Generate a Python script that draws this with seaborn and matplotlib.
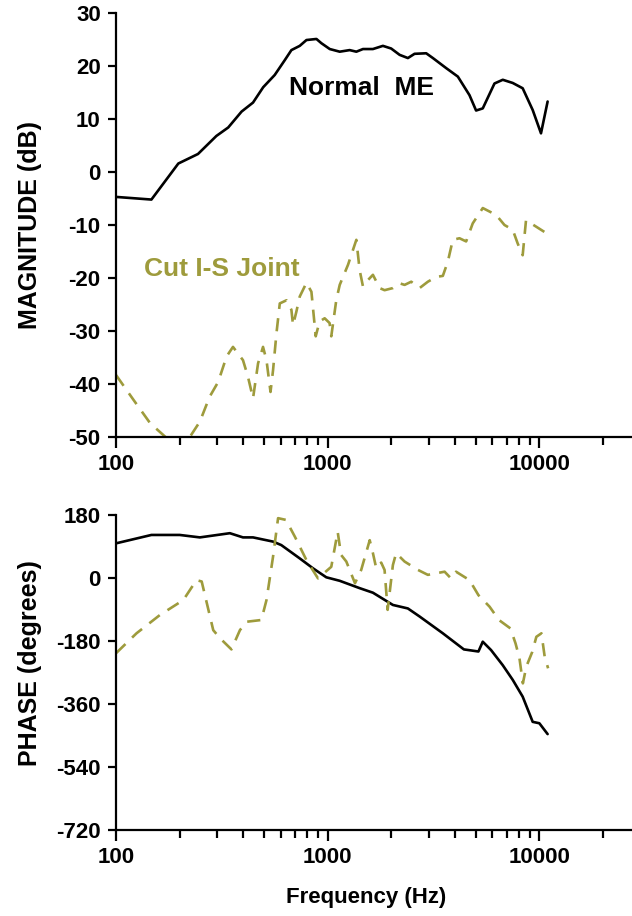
import numpy as np
import pandas as pd
import matplotlib
matplotlib.use("Agg")
import matplotlib.pyplot as plt
from matplotlib.ticker import FixedLocator, FixedFormatter, NullFormatter
import seaborn as sns

# Frequency response of the middle ear: magnitude and phase
freq_mag_normal = [100, 147, 197, 244, 298, 339, 392, 444, 496, 562, 627, 674, 738, 794, 885,
                   934, 1023, 1140, 1270, 1366, 1468, 1636, 1824, 1995, 2188, 2393, 2573, 2921,
                   3141, 3630, 4121, 4677, 5025, 5404, 6138, 6718, 7486, 8342, 9302, 10181, 10943]
mag_normal = [-4.7, -5.2, 1.6, 3.4, 6.8, 8.4, 11.4, 13.1, 16.0, 18.3, 21.1, 23.0, 23.8, 24.9, 25.1,
              24.3, 23.2, 22.7, 23.0, 22.7, 23.2, 23.2, 23.8, 23.3, 22.1, 21.5, 22.3, 22.4,
              21.5, 19.6, 18.0, 14.5, 11.6, 12.0, 16.7, 17.4, 16.8, 15.8, 11.7, 7.3, 13.3]

freq_mag_cut = [100, 121, 145, 167, 188, 215, 249, 277, 304, 333, 357, 398, 420, 444, 469, 495,
                514, 537, 552, 573, 594, 639, 674, 686, 711, 738, 794, 838, 878, 916, 968, 1021,
                1040, 1098, 1140, 1248, 1366, 1416, 1468, 1549, 1636, 1760, 1857, 2033, 2188,
                2309, 2482, 2718, 2974, 3258, 3500, 3696, 3901, 4195, 4510, 4845, 5404, 6249,
                6843, 7486, 7904, 8342, 8650, 9134, 9645, 10560]
mag_cut = [-38.3, -43, -47.4, -49.6, -51.5, -51, -47.1, -42.4, -39.6, -34.8, -33, -35.5, -38.6,
           -42.7, -36.1, -33, -35.5, -41.5, -37.4, -30.4, -24.8, -24.2, -26, -28.9, -26.4, -23.5,
           -20.9, -22.6, -31, -28.2, -27.6, -28.5, -31, -24.2, -21.3, -17.5, -12.8, -18.5, -21.6,
           -20.4, -19.4, -21.9, -22.3, -21.9, -21.0, -21.3, -20.7, -21.9, -20.7, -19.8, -19.6,
           -16.9, -12.8, -12.5, -13.1, -9.7, -6.8, -8.1, -10, -10.9, -13.5, -15.7, -9.1, -9.7,
           -10.3, -11.3]

freq_ph_normal = [100, 147, 200, 249, 345, 398, 444, 552, 604, 738, 851, 985, 1140, 1416, 1636,
                  2033, 2393, 2718, 3500, 4400, 5155, 5404, 5916, 6714, 7486, 8342, 9302, 10000,
                  10943]
ph_normal = [99, 123, 123, 116, 128, 116, 116, 104, 94, 56, 28, 2, -8, -29, -42, -77, -87, -110,
             -158, -204, -210, -182, -206, -249, -291, -339, -411, -415, -446]

freq_ph_cut = [100, 125, 161, 208, 240, 254, 288, 310, 351, 385, 414, 486, 514, 552, 583, 635,
               700, 794, 900, 1040, 1115, 1157, 1225, 1346, 1440, 1580, 1636, 1696, 1790, 1857,
               1920, 2033, 2106, 2309, 2672, 2974, 3568, 3823, 4040, 4677, 5155, 5820, 6444,
               7300, 7720, 8054, 8360, 8680, 9260, 9680, 10230, 10600, 11000]
ph_cut = [-215, -158, -106, -63, -6, -10, -149, -172, -204, -149, -125, -120, -63, 61, 171, 166,
          118, 51, -1, 32, 132, 66, 47, -15, 23, 108, 71, 28, 44, 23, -91, 37, 71, 47, 23, 9, 18,
          -1, 18, -6, -49, -82, -120, -144, -187, -229, -301, -253, -211, -168, -158, -225, -258]

x_major = [100, 1000, 10000]
x_major_labels = ["100", "1000", "10000"]
mag_ticks = [-50, -40, -30, -20, -10, 0, 10, 20, 30]
phase_ticks = [-720, -540, -360, -180, 0, 180]

OLIVE = "#9e9b3c"
FONT = "Liberation Sans"

sns.set_style("ticks")
plt.rcParams["font.family"] = [FONT, "DejaVu Sans"]
plt.rcParams["font.weight"] = "bold"
plt.rcParams["axes.labelcolor"] = "black"
plt.rcParams["text.color"] = "black"

fig = plt.figure(figsize=(6.32, 9.16), dpi=100)
ax_mag = fig.add_axes([116 / 632, 1 - 437 / 916, 1 - 116 / 632, (437 - 13) / 916])
ax_ph = fig.add_axes([116 / 632, 1 - 830 / 916, 1 - 116 / 632, (830 - 515) / 916])

df_mag_n = pd.DataFrame({"f": freq_mag_normal, "v": mag_normal})
df_mag_c = pd.DataFrame({"f": freq_mag_cut, "v": mag_cut})
df_ph_n = pd.DataFrame({"f": freq_ph_normal, "v": ph_normal})
df_ph_c = pd.DataFrame({"f": freq_ph_cut, "v": ph_cut})

line_kw = dict(x="f", y="v", estimator=None, sort=False, linewidth=1.9)
sns.lineplot(data=df_mag_n, ax=ax_mag, color="black", **line_kw)
sns.lineplot(data=df_mag_c, ax=ax_mag, color=OLIVE, linestyle=(0, (5, 3.5)), **line_kw)
sns.lineplot(data=df_ph_n, ax=ax_ph, color="black", **line_kw)
sns.lineplot(data=df_ph_c, ax=ax_ph, color=OLIVE, linestyle=(0, (5, 3.5)), **line_kw)

minor_x = [m * d for d in (100, 1000, 10000) for m in range(2, 10)]

for ax, yticks in ((ax_mag, mag_ticks), (ax_ph, phase_ticks)):
    ax.set_xscale("log")
    ax.set_xlim(100, 27400)
    ax.set_ylim(yticks[0], yticks[-1])
    ax.xaxis.set_major_locator(FixedLocator(x_major))
    ax.xaxis.set_major_formatter(FixedFormatter(x_major_labels))
    ax.xaxis.set_minor_locator(FixedLocator(minor_x))
    ax.xaxis.set_minor_formatter(NullFormatter())
    ax.set_yticks(yticks)
    ax.set_yticklabels([str(t) for t in yticks])
    ax.yaxis.set_minor_locator(FixedLocator([]))
    ax.tick_params(axis="both", which="major", direction="out", length=6, width=1.6,
                   labelsize=16, color="black", labelcolor="black")
    ax.tick_params(axis="x", which="major", length=8, pad=4)
    ax.tick_params(axis="y", which="major", pad=5)
    ax.tick_params(axis="x", which="minor", direction="out", length=5.5, width=1.6, color="black")
    for lab in ax.get_xticklabels() + ax.get_yticklabels():
        lab.set_fontweight("bold")
    for side in ("top", "right"):
        ax.spines[side].set_visible(False)
    for side in ("left", "bottom"):
        ax.spines[side].set_linewidth(1.6)
        ax.spines[side].set_color("black")
    ax.set_xlabel("")
    ax.patch.set_visible(False)

ax_mag.set_ylabel("MAGNITUDE (dB)", fontsize=18, fontweight="bold", color="black")
ax_mag.yaxis.set_label_coords(-0.143, 0.5)
ax_ph.set_ylabel("PHASE (degrees)", fontsize=18, fontweight="bold", color="black")
ax_ph.yaxis.set_label_coords(-0.143, 0.53)
ax_ph.set_xlabel("Frequency (Hz)", fontsize=16, fontweight="bold", color="black")
ax_ph.xaxis.set_label_coords(0.485, -0.181)

ax_mag.text(0.475, 0.823, "Normal  ME", transform=ax_mag.transAxes, ha="center", va="center",
            fontsize=19, fontweight="bold", color="black")
ax_mag.text(0.205, 0.396, "Cut I-S Joint", transform=ax_mag.transAxes, ha="center", va="center",
            fontsize=19, fontweight="bold", color=OLIVE)

fig.savefig("out.png", dpi=100)
